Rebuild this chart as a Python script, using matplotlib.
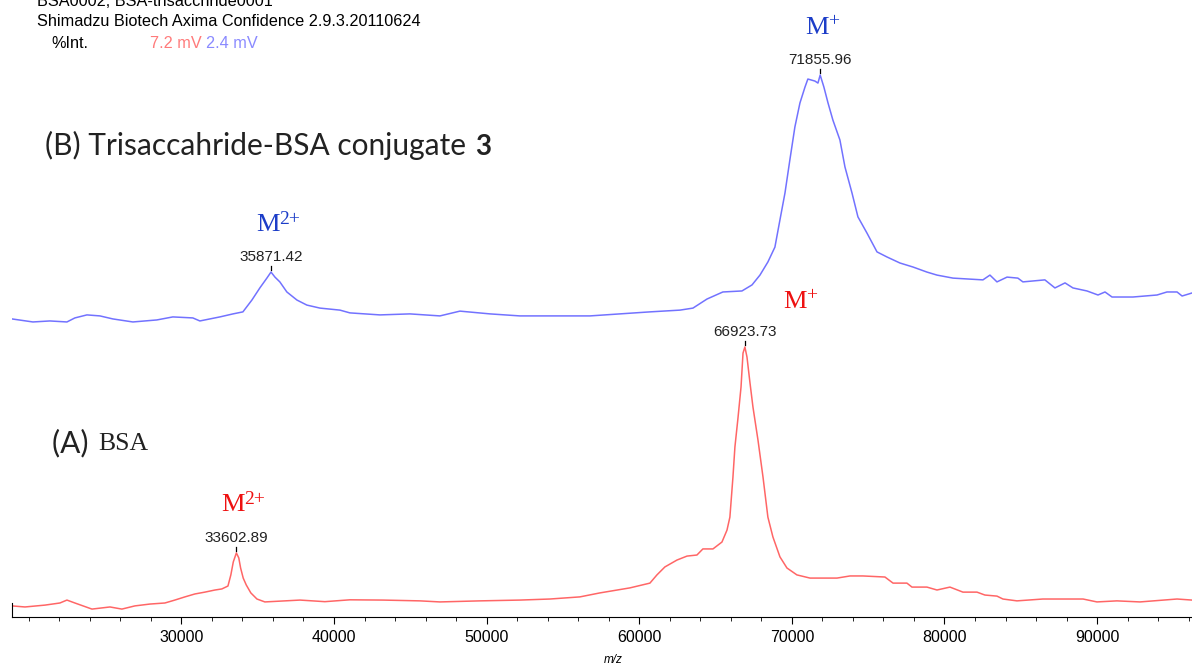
import matplotlib.pyplot as plt
import numpy as np
from matplotlib.ticker import FixedLocator, MultipleLocator

# (A) BSA spectrum, m/z vs relative intensity (%)
red_mz = [18900, 19750, 21060, 22040, 22500, 23020, 24140, 25320, 26100, 26950,
          27940, 28920, 29570, 30230, 30880, 31540, 32200, 32650, 33050, 33240,
          33400, 33602.89, 33760, 33880, 34050, 34250, 34550, 34950, 35470, 37770,
          39400, 41040, 43200, 45630, 46940, 49560, 52180, 54150, 56110, 57420,
          59390, 60700, 61160, 61680, 62470, 63130, 63780, 64170, 64830, 65420,
          65750, 65940, 66140, 66270, 66470, 66670, 66800, 66923.73, 67060, 67250,
          67450, 67780, 68110, 68430, 68760, 69220, 69680, 70330, 71190, 72960,
          73810, 74660, 76100, 76630, 77540, 77870, 78850, 79510, 80360, 81210,
          82130, 82650, 83440, 83830, 84750, 86450, 89080, 89990, 91300, 92810,
          95240, 96220]
red_int = [2.3, 1.9, 2.6, 3.4, 4.5, 3.4, 1.1, 1.9, 1.1, 2.3,
           3.0, 3.4, 4.5, 5.7, 6.8, 7.5, 8.3, 8.7, 9.8, 14.0,
           18.9, 22.3, 20.4, 16.6, 12.8, 10.2, 7.2, 4.9, 3.8, 4.5,
           3.9, 4.6, 4.5, 4.2, 3.8, 4.2, 4.5, 4.9, 5.7, 7.2,
           9.1, 10.9, 14.0, 17.0, 19.6, 21.1, 21.5, 23.8, 23.8, 26.4,
           30.9, 35.8, 50.9, 62.3, 73.2, 84.9, 97.7, 100.0, 96.2, 86.8,
           77.4, 64.9, 50.9, 35.8, 28.3, 20.8, 16.6, 14.0, 12.8, 12.8,
           13.6, 13.6, 13.2, 10.9, 10.9, 9.4, 9.4, 8.3, 9.4, 7.5,
           7.5, 6.4, 6.0, 4.9, 4.2, 4.9, 4.9, 3.8, 4.2, 3.8,
           4.9, 4.5]

# (B) Trisaccharide-BSA conjugate 3
blue_mz = [18900, 20270, 21380, 22500, 23020, 23810, 24660, 25510, 26820, 28390,
           29440, 30750, 31210, 32520, 33380, 34030, 34620, 35140, 35600, 35871.42,
           36130, 36450, 36910, 37570, 38220, 39080, 40390, 41040, 43010, 44970,
           46940, 48250, 50220, 52180, 54800, 56770, 58730, 60700, 62670, 63520,
           64440, 65480, 66730, 67390, 67910, 68430, 68890, 69220, 69550, 69870,
           70200, 70530, 70860, 71050, 71510, 71710, 71855.96, 72100, 72370, 72690,
           73150, 73480, 73940, 74330, 74920, 75580, 76230, 77080, 77940, 78850,
           79510, 80560, 81670, 82520, 82980, 83440, 84100, 84810, 85140, 86580,
           87240, 87900, 88420, 89340, 90060, 90520, 90980, 92350, 93930, 94580,
           95240, 95570, 96220]
blue_int = [3.2, 2.0, 2.4, 2.0, 3.6, 4.8, 4.4, 3.2, 2.0, 2.8,
            4.0, 3.6, 2.4, 4.0, 5.2, 6.0, 10.7, 15.5, 19.4, 21.8,
            19.8, 17.9, 13.9, 10.7, 8.7, 7.5, 6.7, 5.6, 4.8, 5.2,
            4.4, 6.3, 5.2, 4.4, 4.4, 4.4, 5.2, 6.0, 6.7, 7.5,
            11.1, 13.9, 14.3, 16.7, 20.6, 25.8, 31.7, 42.5, 53.2, 66.3,
            79.4, 88.9, 95.2, 98.4, 97.6, 96.8, 100.0, 95.2, 88.9, 82.1,
            74.2, 63.5, 53.2, 43.7, 37.3, 29.8, 27.8, 25.4, 23.8, 21.8,
            20.6, 19.4, 19.0, 18.7, 20.6, 17.9, 19.8, 19.4, 17.9, 18.7,
            15.5, 17.5, 15.5, 14.3, 12.7, 13.9, 11.9, 11.9, 12.7, 13.9,
            13.9, 12.3, 13.5]

red_peaks = [33602.89, 66923.73]
blue_peaks = [35871.42, 71855.96]
xticks = [30000, 40000, 50000, 60000, 70000, 80000, 90000]

W, H = 1192, 668
fig = plt.figure(figsize=(W / 100, H / 100), dpi=100)
ax = fig.add_axes([12 / W, 51 / H, 1180 / W, 617 / H])
renderer = fig.canvas.get_renderer()

red_c = "#ff6666"
blue_c = "#7272ff"

def red_y(v):
    return 5 + 2.65 * np.asarray(v)

def blue_y(v):
    return 290 + 2.52 * np.asarray(v)

ax.plot(red_mz, red_y(red_int), color=red_c, lw=1.1)
ax.plot(blue_mz, blue_y(blue_int), color=blue_c, lw=1.1)

ax.set_xlim(18900, 96220)
ax.set_ylim(0, 617)

for spine in ["top", "right"]:
    ax.spines[spine].set_visible(False)
ax.spines["left"].set_bounds(0, 14)
ax.set_yticks([])
ax.xaxis.set_major_locator(FixedLocator(xticks))
ax.xaxis.set_minor_locator(MultipleLocator(2000))
ax.tick_params(axis="x", which="major", length=5, pad=4, labelsize=11.5)
ax.tick_params(axis="x", which="minor", length=3)
for lab in ax.get_xticklabels():
    lab.set_fontfamily("Liberation Sans")

# peak labels with small apex ticks
for peaks, mz, it, fy in [(red_peaks, red_mz, red_int, red_y),
                          (blue_peaks, blue_mz, blue_int, blue_y)]:
    for p in peaks:
        y = float(fy(np.interp(p, mz, it)))
        ax.plot([p, p], [y + 2, y + 6], color="black", lw=0.9)
        ax.text(p, y + 15, f"{p:.2f}", ha="center", va="center",
                fontsize=11, family="Liberation Sans", color="#222222")

def px(x, y):
    return x / W, 1 - y / H

def after(t, gap=0):
    bb = t.get_window_extent(renderer)
    return (bb.x1 + gap) / W

def mlabel(x, y, sup, color):
    t = fig.text(*px(x, y), "M", color=color, fontsize=19,
                 family="Liberation Serif", ha="left", va="center")
    fig.text(after(t), 1 - (y - 6) / H, sup, color=color, fontsize=14,
             family="Liberation Serif", ha="left", va="center")

mlabel(805, 28, "+", "#1c3dc8")
mlabel(783, 302, "+", "#ee1111")
mlabel(256, 225, "2+", "#1c3dc8")
mlabel(221, 505, "2+", "#ee1111")

t = fig.text(*px(45, 145), "(B) Trisaccahride-BSA conjugate ", fontsize=21.5,
             family="Lato", va="center", ha="left", color="#222222")
fig.text(after(t, 2), 1 - 147 / H, "3", fontsize=20, family="Lato", weight="bold",
         va="center", ha="left", color="#222222")
t = fig.text(*px(52, 443), "(A) ", fontsize=21.5, family="Lato", va="center",
             ha="left", color="#222222")
fig.text(after(t, 2), 1 - 444 / H, "BSA", fontsize=18.5,
         family="Liberation Serif", va="center", ha="left", color="#222222")

# header
hdr = dict(fontsize=11.7, family="Liberation Sans", va="center", ha="left")
fig.text(*px(37, 2), "BSA0002, BSA-trisacchride0001", **hdr)
fig.text(*px(37, 22), "Shimadzu Biotech Axima Confidence 2.9.3.20110624", **hdr)
fig.text(*px(51, 43), "%Int.", **hdr)
t = fig.text(*px(150, 43), "7.2 mV", color="#ff7b7b", **hdr)
fig.text(after(t, 4), 1 - 43 / H, "2.4 mV", color="#8a8aff", **hdr)

fig.text(*px(613, 660), "m/z", fontsize=8.5, style="italic",
         family="Liberation Sans", ha="center", va="center")

fig.savefig("out.png", dpi=100)
